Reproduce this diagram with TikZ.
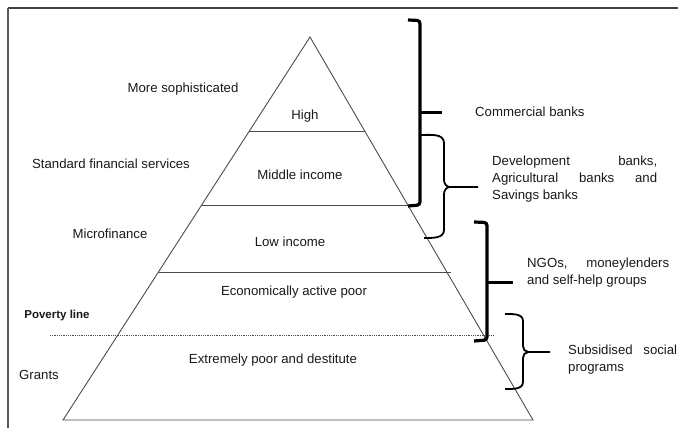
\documentclass[tikz,border=0pt]{standalone}
\usepackage{fontspec}
\setmainfont{Liberation Sans}
\begin{document}
\begin{tikzpicture}[x=1pt,y=-1pt,
  lbl/.style={inner sep=0pt, text=black!90, font=\fontsize{13.2}{17}\selectfont},
  tri/.style={draw=black!70, line width=0.9pt},
  bigbr/.style={draw=black, line width=3.2pt, rounded corners=3pt},
  curl/.style={draw=black, line width=1.8pt},
]
\useasboundingbox (0,0) rectangle (678,428);
% frame
\draw[draw=black!75, line width=2pt] (8,8) -- (678,8);
\draw[draw=black!65, line width=1.5pt] (8,8) -- (8,428);

% triangle
\coordinate (apex) at (310,37);
\coordinate (bl) at (63,420);
\coordinate (br) at (533,420);
\draw[tri] (bl) -- (apex) -- (br) -- cycle;
\coordinate (h1l) at (249.4,131); \coordinate (h1r) at (364.7,131);
\coordinate (h2l) at (201.6,205); \coordinate (h2r) at (407.8,205);
\coordinate (h3l) at (158.4,272); \coordinate (h3r) at (451,272);
\coordinate (pl) at (50,335); \coordinate (pr) at (493,335);
\draw[tri] (h1l) -- (h1r);
\draw[tri] (h2l) -- (h2r);
\draw[tri] (h3l) -- (h3r);
\draw[draw=black!70, line width=0.8pt, densely dotted] (pl) -- (pr);

% inside labels
\node[lbl] (high) at (305,116) {High};
\node[lbl] (mid) at (300,175) {Middle income};
\node[lbl] (low) at (290,242) {Low income};
\node[lbl] (econ) at (294,292) {Economically active poor};
\node[lbl] (ext) at (273,360) {Extremely poor and destitute};

% left labels
\node[lbl] (soph) at (183,89) {More sophisticated};
\node[lbl] (std) at (111,164) {Standard financial services};
\node[lbl] (micro) at (110,234) {Microfinance};
\node[lbl, font=\fontsize{11.5}{14}\selectfont\bfseries] (pov) at (57,316) {Poverty line};
\node[lbl] (grants) at (39,375) {Grants};

% big bracket: commercial banks
\draw[bigbr] (408,20) -- (420,20.5) -- (420,205) -- (408,206);
\draw[draw=black, line width=3pt] (420,113) -- (442,113);
\node[lbl, anchor=west] (comm) at (475,112) {Commercial banks};

% curly brace: development banks
\draw[curl] (420,135) to[out=0,in=90] (444,143) -- (444,180)
  to[out=-90,in=180] (450,187) -- (478,187);
\draw[curl] (450,187) to[out=180,in=90] (444,194) -- (444,230)
  to[out=-90,in=0] (424,238);
\node[lbl, anchor=west] (dev) at (492,179) {\begin{tabular}{@{}l@{}}%
  \makebox[165pt][s]{Development banks,}\\
  \makebox[165pt][s]{Agricultural banks and}\\
  Savings banks\end{tabular}};

% big bracket: NGOs
\draw[bigbr] (474,222) -- (487,222.5) -- (487,340) -- (474,341);
\draw[draw=black, line width=3pt] (487,282) -- (513,282);
\node[lbl, anchor=west] (ngo) at (527,273) {\begin{tabular}{@{}l@{}}%
  \makebox[142pt][s]{NGOs, moneylenders}\\
  and self-help groups\end{tabular}};

% curly brace: subsidised
\draw[curl] (505,314) to[out=0,in=90] (523,321) -- (523,346)
  to[out=-90,in=180] (528,352) -- (550,352);
\draw[curl] (528,352) to[out=180,in=90] (523,358) -- (523,382)
  to[out=-90,in=0] (505,389);
\node[lbl, anchor=west] (sub) at (568,360) {\begin{tabular}{@{}l@{}}%
  \makebox[109pt][s]{Subsidised social}\\
  programs\end{tabular}};
\end{tikzpicture}
\end{document}
